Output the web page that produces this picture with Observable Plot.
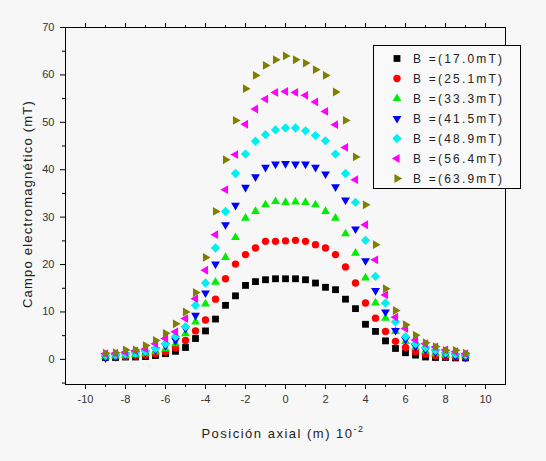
<!DOCTYPE html>
<html><head><meta charset="utf-8">
<script src="https://cdn.jsdelivr.net/npm/d3@7"></script>
<script src="https://cdn.jsdelivr.net/npm/@observablehq/plot@0.6"></script>
<style>
body{margin:0;background:#f7f7f7;}
#chart{width:546px;height:461px;}
</style>
</head><body><div id="chart"></div>
<script>
const xPos = [-9,-8.5,-8,-7.5,-7,-6.5,-6,-5.5,-5,-4.5,-4,-3.5,-3,-2.5,-2,-1.5,-1,-0.5,0,0.5,1,1.5,2,2.5,3,3.5,4,4.5,5,5.5,6,6.5,7,7.5,8,8.5,9];
const labels = ["B =(17.0mT)","B =(25.1mT)","B =(33.3mT)","B =(41.5mT)","B =(48.9mT)","B =(56.4mT)","B =(63.9mT)"];
const colors = ["#000000","#ff0000","#00ee00","#0000ff","#00f0f0","#ff00ff","#808000"];
const s17 = [0.4,0.4,0.5,0.5,0.6,0.8,1.2,1.7,2.5,4.4,6.0,8.5,11.4,13.4,15.6,16.4,16.8,17.0,17.0,17.0,16.8,16.1,15.2,14.7,12.7,10.7,7.4,5.9,3.9,2.3,1.4,0.9,0.5,0.4,0.4,0.3,0.3];
const s25 = [0.5,0.6,0.6,0.8,0.9,1.2,1.6,2.4,4.0,6.0,8.3,12.7,17.0,20.1,22.1,23.5,24.9,24.9,25.0,25.1,24.9,24.2,23.5,22.1,19.5,16.1,11.9,8.7,5.9,3.8,2.5,1.6,1.1,0.8,0.6,0.5,0.5];
const s33 = [0.6,0.7,0.8,1.0,1.2,1.6,2.2,3.3,5.4,7.9,11.7,16.3,21.5,25.7,29.8,31.2,32.6,33.3,33.1,33.2,33.1,32.6,31.2,29.8,26.5,22.4,17.2,11.9,8.7,5.9,3.8,2.5,1.7,1.2,0.9,0.8,0.7];
const s41 = [0.3,0.6,0.9,1.2,1.5,2.0,2.9,4.0,6.5,9.3,14.0,20.1,28.4,32.5,36.3,38.5,40.5,41.2,41.3,41.2,41.2,40.5,39.1,36.4,33.6,27.5,20.8,14.5,10.0,6.1,4.2,2.7,2.0,1.5,1.0,0.7,0.4];
const s48 = [0.8,0.9,1.1,1.3,1.7,2.3,3.3,4.8,6.9,11.4,16.1,23.5,31.2,39.2,43.3,46.0,47.4,48.4,48.8,48.8,48.2,47.2,46.1,43.3,39.2,33.1,25.1,17.5,11.9,7.9,4.8,3.3,2.5,1.9,1.4,1.1,0.9];
const s56 = [1.2,1.3,1.5,1.8,2.2,3.3,4.4,5.8,8.6,12.8,18.8,26.3,35.8,43.2,49.6,52.8,54.9,56.3,56.5,56.3,55.7,54.3,52.3,49.5,44.7,37.9,28.4,21.0,13.6,8.9,6.5,4.1,3.3,2.6,2.0,1.6,1.2];
const s63 = [1.3,1.4,2.0,2.0,2.9,4.0,5.5,7.5,10.0,14.1,21.5,31.2,42.1,50.4,57.1,59.9,62.0,63.2,64.0,63.2,62.5,61.1,59.9,56.4,50.4,42.7,32.6,24.2,14.9,10.3,7.3,5.1,3.5,2.7,1.9,1.9,1.3];
const xMajor = [-10,-8,-6,-4,-2,0,2,4,6,8,10];
const xMinor = [-9,-7,-5,-3,-1,1,3,5,7,9];
const yMajor = [0,10,20,30,40,50,60,70];
const yMinor = [-5,5,15,25,35,45,55,65];
const xLabel = "Posición axial (m) 10";
const xLabelSup = "-2";
const yLabel = "Campo electromagnético (mT)";

// custom symbols
function poly(angle0, k) {
  return {draw(ctx, size) {
    const r = Math.sqrt(size) * k;
    for (let i = 0; i < 3; i++) {
      const a = angle0 + i * 2 * Math.PI / 3;
      const px = r * Math.cos(a), py = r * Math.sin(a);
      if (i === 0) ctx.moveTo(px, py); else ctx.lineTo(px, py);
    }
    ctx.closePath();
  }};
}
const symSquare = {draw(ctx, size){ const s = Math.sqrt(size)*0.48; ctx.moveTo(-s,-s); ctx.lineTo(s,-s); ctx.lineTo(s,s); ctx.lineTo(-s,s); ctx.closePath(); }};
const symCircle = {draw(ctx, size){ const R = Math.sqrt(size/Math.PI)*0.92; ctx.moveTo(R,0); ctx.arc(0,0,R,0,2*Math.PI); }};
const symDiamond = {draw(ctx, size){ const d = Math.sqrt(size)*0.66; ctx.moveTo(0,-d); ctx.lineTo(d,0); ctx.lineTo(0,d); ctx.lineTo(-d,0); ctx.closePath(); }};
const symUp = poly(-Math.PI/2, 0.72);
const symDown = poly(Math.PI/2, 0.72);
const symLeft = poly(Math.PI, 0.72);
const symRight = poly(0, 0.72);
const symbols = [symSquare, symCircle, symUp, symDown, symDiamond, symLeft, symRight];
const seriesValues = [s17, s25, s33, s41, s48, s56, s63];

const font = "'Liberation Sans', Arial, sans-serif";
const dotMarks = seriesValues.map((vals, i) =>
  Plot.dot(xPos.map((x, j) => ({x, y: vals[j]})), {x: "x", y: "y", r: 4, fill: colors[i], stroke: "none", symbol: symbols[i]})
);

const plot = Plot.plot({
  width: 546, height: 461,
  marginLeft: 65, marginRight: 41, marginTop: 27, marginBottom: 77,
  style: {background: "#f7f7f7", fontFamily: font, color: "#000"},
  x: {domain: [-11, 11]},
  y: {domain: [-5.3, 70]},
  marks: [
    Plot.axisX({ticks: xMajor, tickSize: 5, tickPadding: 6, fontSize: 11, fill: "#333", label: null, tickFormat: d => String(d)}),
    Plot.axisX({ticks: xMinor, tickSize: 3, text: null, label: null}),
    Plot.axisX({anchor: "top", ticks: xMajor, tickSize: 5, text: null, label: null}),
    Plot.axisX({anchor: "top", ticks: xMinor, tickSize: 3, text: null, label: null}),
    Plot.axisY({ticks: yMajor, tickSize: 5, tickPadding: 6, fontSize: 11, fill: "#333", label: null, tickFormat: d => String(d)}),
    Plot.axisY({ticks: yMinor, tickSize: 3, text: null, label: null}),
    ...dotMarks,
    Plot.frame({stroke: "#000", strokeWidth: 1})
  ]
});
document.getElementById("chart").appendChild(plot);

const svg = d3.select(plot);
// axis labels
const xl = svg.append("text")
  .attr("x", 283).attr("y", 438)
  .attr("text-anchor", "middle")
  .attr("font-family", font).attr("font-size", 13).attr("fill", "#222")
  .attr("letter-spacing", "1.5px");
xl.append("tspan").text(xLabel);
xl.append("tspan").attr("dy", -6).attr("font-size", 9).text(xLabelSup);

svg.append("text")
  .attr("transform", "translate(32,204) rotate(-90)")
  .attr("text-anchor", "middle")
  .attr("font-family", font).attr("font-size", 13).attr("fill", "#222")
  .attr("letter-spacing", "1.2px")
  .text(yLabel);

// legend
const lg = svg.append("g");
lg.append("rect").attr("x", 373.5).attr("y", 45.5).attr("width", 147).attr("height", 143)
  .attr("fill", "#f9f9f9").attr("stroke", "#000");
labels.forEach((lab, i) => {
  const cy = 58.5 + i * 20;
  lg.append("path").attr("transform", `translate(397,${cy})`)
    .attr("d", d3.symbol(symbols[i], 16 * Math.PI)())
    .attr("fill", colors[i]);
  lg.append("text").attr("x", 413).attr("y", cy + 4.5)
    .attr("text-anchor", "start")
    .attr("font-family", font).attr("font-size", 12).attr("fill", "#222")
    .attr("letter-spacing", "2.2px").text(lab);
});
</script></body></html>
